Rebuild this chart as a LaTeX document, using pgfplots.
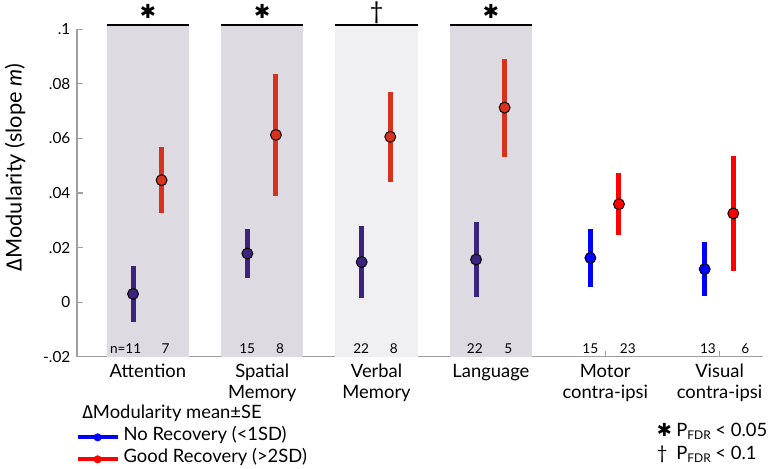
\documentclass[border=0pt]{standalone}
\usepackage{fontspec}
\setmainfont{Lato}
\newfontfamily\grk{Fira Sans}
\newfontfamily\sym{DejaVu Sans}
\usepackage{pgfplots}
\pgfplotsset{compat=1.18}
\usepackage{pgfplotstable}

\definecolor{mypurple}{RGB}{60,35,125}
\definecolor{myred}{RGB}{215,50,30}
\definecolor{brblue}{RGB}{0,0,255}
\definecolor{brred}{RGB}{255,0,0}
\definecolor{boxgray}{RGB}{221,219,225}
\definecolor{boxlight}{RGB}{240,239,242}
\definecolor{axisgray}{RGB}{160,160,160}

% No recovery, groups 1-4
\pgfplotstableread{
x y e
0.87 0.0030 0.0103
1.87 0.0178 0.0090
2.87 0.0147 0.0132
3.87 0.0156 0.0137
}\purpletab
% Good recovery, groups 1-4
\pgfplotstableread{
x y e
1.12 0.0447 0.0120
2.12 0.0613 0.0225
3.12 0.0606 0.0165
4.12 0.0713 0.0180
}\redtab
% No recovery, groups 5-6
\pgfplotstableread{
x y e
4.87 0.0162 0.0107
5.87 0.0121 0.0099
}\bluetab
% Good recovery, groups 5-6
\pgfplotstableread{
x y e
5.12 0.0359 0.0114
6.12 0.0325 0.0210
}\brredtab

\begin{document}
\begin{tikzpicture}
\useasboundingbox (-57.75pt,-84.2pt) rectangle (519.75pt,267.5pt);
\begin{axis}[
  scale only axis, width=514.5pt, height=245.5pt,
  at={(0,0)}, anchor=south west,
  xmin=0.38, xmax=6.38, ymin=-0.02, ymax=0.1,
  clip=false,
  axis x line*=bottom, axis y line*=left,
  axis line style={draw=axisgray, line width=1.1pt, -},
  xtick={1,2,3,4,5,6},
  xticklabels={Attention,{Spatial\\Memory},{Verbal\\Memory},Language,{Motor\\contra-ipsi},{Visual\\contra-ipsi}},
  xticklabel style={align=center, font=\fontsize{13.8}{16}\selectfont, yshift=-2pt},
  ytick={-0.02,0,0.02,0.04,0.06,0.08,0.1},
  yticklabels={-.02,0,.02,.04,.06,.08,.1},
  yticklabel style={font=\fontsize{11.5}{12}\selectfont, xshift=-1.5pt},
  tick align=inside, major tick length=4.5pt,
  tick style={draw=axisgray, line width=0.8pt},
  ylabel={{\grk Δ}Modularity (slope \textit{m})},
  ylabel style={at={(axis description cs:-0.0904,0.578)}, anchor=center, font=\fontsize{16.3}{18}\selectfont},
  legend image code/.code={\draw[#1, line width=3pt] (0pt,0pt) -- (30pt,0pt); \fill[#1] (15pt,0pt) circle (2.8pt);},
  legend style={at={(axis description cs:-0.002,-0.222)}, anchor=north west, draw=none, fill=none,
    inner sep=0pt, outer sep=0pt, font=\fontsize{13.8}{15}\selectfont,
    nodes={inner sep=1pt, text depth=0.25em, text height=0.75em, anchor=west},
    row sep=4.5pt, column sep=2pt},
  legend cell align=left,
]
\addlegendimage{brblue}
\addlegendentry{No Recovery (<1SD)}
\addlegendimage{brred}
\addlegendentry{Good Recovery (>2SD)}

% shaded boxes
\addplot[fill=boxgray, draw=none, forget plot] coordinates {(0.64,-0.02) (1.36,-0.02) (1.36,0.1015) (0.64,0.1015)} -- cycle;
\addplot[fill=boxgray, draw=none, forget plot] coordinates {(1.64,-0.02) (2.36,-0.02) (2.36,0.1015) (1.64,0.1015)} -- cycle;
\addplot[fill=boxlight, draw=none, forget plot] coordinates {(2.64,-0.02) (3.36,-0.02) (3.36,0.1015) (2.64,0.1015)} -- cycle;
\addplot[fill=boxgray, draw=none, forget plot] coordinates {(3.64,-0.02) (4.36,-0.02) (4.36,0.1015) (3.64,0.1015)} -- cycle;
% top lines
\addplot[black, line width=1.5pt, forget plot] coordinates {(0.64,0.1015) (1.36,0.1015)};
\addplot[black, line width=1.5pt, forget plot] coordinates {(1.64,0.1015) (2.36,0.1015)};
\addplot[black, line width=1.5pt, forget plot] coordinates {(2.64,0.1015) (3.36,0.1015)};
\addplot[black, line width=1.5pt, forget plot] coordinates {(3.64,0.1015) (4.36,0.1015)};

% data
\addplot[only marks, mark=*, mark size=4.1pt, mark options={fill=mypurple, draw=black, line width=0.7pt}, forget plot,
  error bars/.cd, y dir=both, y explicit, error mark=none, error bar style={draw=mypurple, line width=3.75pt}]
  table[x=x, y=y, y error=e] {\purpletab};
\addplot[only marks, mark=*, mark size=4.1pt, mark options={fill=myred, draw=black, line width=0.7pt}, forget plot,
  error bars/.cd, y dir=both, y explicit, error mark=none, error bar style={draw=myred, line width=3.75pt}]
  table[x=x, y=y, y error=e] {\redtab};
\addplot[only marks, mark=*, mark size=4.1pt, mark options={fill=brblue, draw=black, line width=0.7pt}, forget plot,
  error bars/.cd, y dir=both, y explicit, error mark=none, error bar style={draw=brblue, line width=3.75pt}]
  table[x=x, y=y, y error=e] {\bluetab};
\addplot[only marks, mark=*, mark size=4.1pt, mark options={fill=brred, draw=black, line width=0.7pt}, forget plot,
  error bars/.cd, y dir=both, y explicit, error mark=none, error bar style={draw=brred, line width=3.75pt}]
  table[x=x, y=y, y error=e] {\brredtab};

% significance markers
\node[font=\sym\fontsize{14.5}{14}\selectfont] at (axis cs:1,0.1066) {✱};
\node[font=\sym\fontsize{14.5}{14}\selectfont] at (axis cs:2,0.1066) {✱};
\node[font=\fontsize{18}{18}\selectfont] at (axis cs:3,0.1060) {†};
\node[font=\sym\fontsize{14.5}{14}\selectfont] at (axis cs:4,0.1066) {✱};

% n labels
\begin{scope}[every node/.style={font=\fontsize{10.2}{11}\selectfont, inner sep=0pt}]
\node at (axis cs:0.873,-0.0171) {\llap{n=}11};
\node at (axis cs:1.155,-0.0171) {7};
\node at (axis cs:1.869,-0.0171) {15};
\node at (axis cs:2.157,-0.0171) {8};
\node at (axis cs:2.866,-0.0171) {22};
\node at (axis cs:3.152,-0.0171) {8};
\node at (axis cs:3.860,-0.0171) {22};
\node at (axis cs:4.152,-0.0171) {5};
\node at (axis cs:4.870,-0.0171) {15};
\node at (axis cs:5.198,-0.0171) {23};
\node at (axis cs:5.898,-0.0171) {13};
\node at (axis cs:6.225,-0.0171) {6};
\end{scope}

% legend title and significance key
\node[anchor=west, font=\fontsize{13.8}{15}\selectfont, inner sep=0pt] at (axis description cs:0.0073,-0.172) {{\grk Δ}Modularity mean±SE};
\node[anchor=west, font=\fontsize{13.8}{15}\selectfont, inner sep=0pt] at (axis description cs:0.845,-0.228)
  {\makebox[14.5pt][l]{\sym\fontsize{13.5}{14}\selectfont ✱}P\raisebox{-0.35ex}{\fontsize{9}{9}\selectfont FDR} < 0.05};
\node[anchor=west, font=\fontsize{13.8}{15}\selectfont, inner sep=0pt] at (axis description cs:0.845,-0.297)
  {\makebox[14.5pt][l]{†}P\raisebox{-0.35ex}{\fontsize{9}{9}\selectfont FDR} < 0.1};
\end{axis}
\end{tikzpicture}
\end{document}
